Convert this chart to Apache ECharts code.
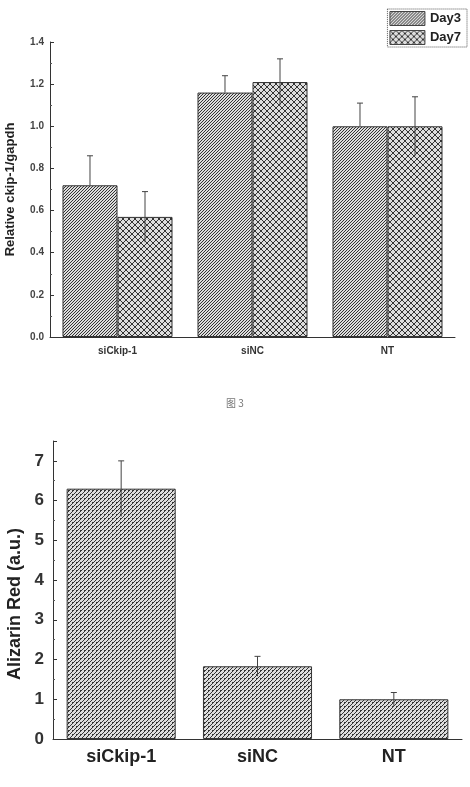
<!DOCTYPE html>
<html>
<head>
<meta charset="utf-8">
<script src="https://cdn.jsdelivr.net/npm/echarts@6/dist/echarts.min.js"></script>
<style>
  html, body { margin: 0; padding: 0; background: #fff; }
  #chart { width: 470px; height: 787px; }
</style>
</head>
<body>
<div id="chart"></div>
<script>
// 上图：ckip-1 相对表达
var groups = ['siCkip-1', 'siNC', 'NT'];
var day3 = [0.72, 1.16, 1.00];
var day3Err = [0.14, 0.08, 0.11];
var day7 = [0.57, 1.21, 1.00];
var day7Err = [0.12, 0.11, 0.14];
var topTicks = [0, 0.2, 0.4, 0.6, 0.8, 1.0, 1.2, 1.4];

// 下图：茜素红
var redValues = [6.3, 1.83, 1.0];
var redErr = [0.7, 0.25, 0.17];

var caption = '图 3';

// 填充花纹
function hatch(size, draw) {
  var c = document.createElement('canvas');
  c.width = size; c.height = size;
  var ctx = c.getContext('2d');
  ctx.fillStyle = '#ddd';
  ctx.fillRect(0, 0, size, size);
  ctx.strokeStyle = '#333';
  ctx.lineWidth = 1;
  draw(ctx, size);
  return { image: c, repeat: 'repeat' };
}
var diagFill = hatch(3, function (ctx, s) {
  ctx.beginPath();
  ctx.moveTo(0, s); ctx.lineTo(s, 0);
  ctx.moveTo(-1, 1); ctx.lineTo(1, -1);
  ctx.moveTo(s - 1, s + 1); ctx.lineTo(s + 1, s - 1);
  ctx.stroke();
});
var crossFill = hatch(6, function (ctx, s) {
  ctx.beginPath();
  ctx.moveTo(0, 0); ctx.lineTo(s, s);
  ctx.moveTo(0, s); ctx.lineTo(s, 0);
  ctx.stroke();
});
var denseFill = hatch(4, function (ctx, s) {
  ctx.beginPath();
  ctx.moveTo(0, s); ctx.lineTo(s, 0);
  ctx.moveTo(-1, 1); ctx.lineTo(1, -1);
  ctx.moveTo(0, 2.5); ctx.lineTo(2, 2.5);
  ctx.stroke();
});

var FONT = 'Liberation Sans';
var catGap = 0.185;

// 误差线：offset 为相对类目中心的柱位置（-0.5 / 0.5 / 0）
function errSeries(xi, yi, vals, errs, offset, widthRatio, both) {
  return {
    type: 'custom',
    xAxisIndex: xi, yAxisIndex: yi,
    z: 5,
    data: vals.map(function (v, i) { return [i, v, errs[i]]; }),
    renderItem: function (params, api) {
      var i = api.value(0), v = api.value(1), e = api.value(2);
      var catW = api.size([1, 0])[0];
      var c = api.coord([i, v]);
      var x = c[0] + offset * catW * widthRatio;
      var top = api.coord([i, v + e])[1];
      var bot = both ? api.coord([i, v - e])[1] : c[1];
      var st = { stroke: '#444', lineWidth: 1 };
      return {
        type: 'group',
        children: [
          { type: 'line', shape: { x1: x, y1: top, x2: x, y2: bot }, style: st },
          { type: 'line', shape: { x1: x - 3, y1: top, x2: x + 3, y2: top }, style: st }
        ]
      };
    }
  };
}

var chart = echarts.init(document.getElementById('chart'));
chart.setOption({
  animation: false,
  title: {
    text: caption,
    left: 'center', top: 393,
    textStyle: { fontFamily: 'Noto Sans CJK SC', fontSize: 10, fontWeight: 'normal', color: '#777' }
  },
  legend: {
    data: ['Day3', 'Day7'],
    orient: 'vertical',
    right: 3, top: 9,
    icon: 'rect',
    itemWidth: 35, itemHeight: 14,
    itemGap: 4,
    padding: [2, 6, 2, 2],
    borderColor: '#555', borderWidth: 1, borderType: 'dotted',
    textStyle: { fontFamily: FONT, fontSize: 13, fontWeight: 'bold', color: '#222' },
    itemStyle: { borderColor: '#444', borderWidth: 1 }
  },
  grid: [
    { left: 50, right: 15, top: 42, bottom: 450, outerBoundsMode: 'none' },
    { left: 53, right: 8, top: 441, bottom: 48, outerBoundsMode: 'none' }
  ],
  xAxis: [
    {
      type: 'category', gridIndex: 0, data: groups,
      axisLine: { lineStyle: { color: '#333' } },
      axisTick: { alignWithLabel: true, length: 5, lineStyle: { color: '#333' } },
      axisLabel: { fontFamily: FONT, fontSize: 10, fontWeight: 'bold', color: '#333', margin: 9 }
    },
    {
      type: 'category', gridIndex: 1, data: groups,
      axisLine: { lineStyle: { color: '#333' } },
      axisTick: { alignWithLabel: true, length: 5, lineStyle: { color: '#333' } },
      axisLabel: { fontFamily: FONT, fontSize: 18, fontWeight: 'bold', color: '#222', margin: 9 }
    }
  ],
  yAxis: [
    {
      type: 'value', gridIndex: 0, min: 0, max: 1.4, interval: 0.2,
      name: 'Relative ckip-1/gapdh', nameLocation: 'middle', nameGap: 33,
      nameTextStyle: { fontFamily: FONT, fontSize: 13, fontWeight: 'bold', color: '#222' },
      axisLine: { show: true, lineStyle: { color: '#333' } },
      axisTick: { show: true, inside: true, length: 4, lineStyle: { color: '#333' } },
      minorTick: { show: true, splitNumber: 2, length: 2, lineStyle: { color: '#555' } },
      splitLine: { show: false },
      axisLabel: {
        fontFamily: FONT, fontSize: 10, fontWeight: 'bold', color: '#444', margin: 6,
        formatter: function (v) { return topTicks.indexOf(+v.toFixed(1)) >= 0 ? v.toFixed(1) : ''; }
      }
    },
    {
      type: 'value', gridIndex: 1, min: 0, max: 7.5, interval: 1,
      name: 'Alizarin Red (a.u.)', nameLocation: 'middle', nameGap: 26,
      nameTextStyle: { fontFamily: FONT, fontSize: 18, fontWeight: 'bold', color: '#222', padding: [0, 0, 0, -28] },
      axisLine: { show: true, lineStyle: { color: '#333' } },
      axisTick: { show: true, inside: true, length: 4, lineStyle: { color: '#333' } },
      minorTick: { show: true, splitNumber: 2, length: 2, lineStyle: { color: '#555' } },
      splitLine: { show: false },
      axisLabel: {
        fontFamily: FONT, fontSize: 17, fontWeight: 'bold', color: '#333', margin: 9,
        showMaxLabel: false
      }
    }
  ],
  series: [
    {
      name: 'Day3', type: 'bar', xAxisIndex: 0, yAxisIndex: 0,
      data: day3, barGap: '0%', barCategoryGap: '18.5%',
      itemStyle: { color: diagFill, borderColor: '#333', borderWidth: 1 }
    },
    {
      name: 'Day7', type: 'bar', xAxisIndex: 0, yAxisIndex: 0,
      data: day7,
      itemStyle: { color: crossFill, borderColor: '#333', borderWidth: 1 }
    },
    errSeries(0, 0, day3, day3Err, -0.5, (1 - catGap) / 2, false),
    errSeries(0, 0, day7, day7Err, 0.5, (1 - catGap) / 2, true),
    {
      name: 'Alizarin', type: 'bar', xAxisIndex: 1, yAxisIndex: 1,
      data: redValues, barCategoryGap: '20%',
      itemStyle: { color: denseFill, borderColor: '#333', borderWidth: 1 }
    },
    errSeries(1, 1, redValues, redErr, 0, 0, true)
  ]
});
</script>
</body>
</html>
